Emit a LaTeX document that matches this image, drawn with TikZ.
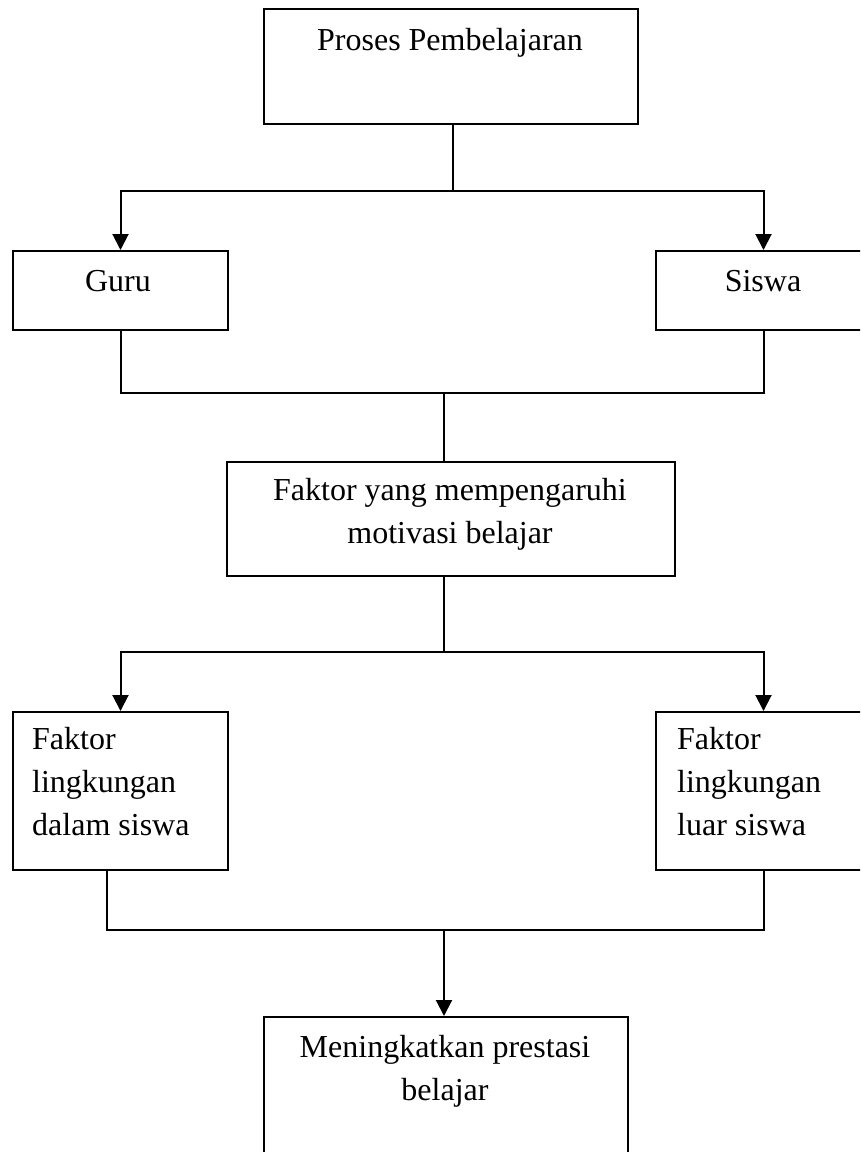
\documentclass[tikz,border=0pt]{standalone}
\usepackage{fontspec}
\setmainfont{Liberation Serif}
\usepackage{tikz}
\usetikzlibrary{arrows.meta,positioning}

\tikzset{
    kotak/.style={draw, line width=2pt, rectangle, inner sep=0pt, anchor=north west},
    teks/.style={font=\fontsize{32}{43}\selectfont, inner sep=0pt, anchor=base},
    garis/.style={line width=2pt}
}

\begin{document}
\begin{tikzpicture}[x=1pt, y=-1pt, >={Triangle[width=16pt,length=16pt]}]
    \useasboundingbox (0,0) rectangle (860,1152);
    \clip (0,0) rectangle (860,1152);

    % Proses pembelajaran
    \node[kotak, minimum width=374pt, minimum height=115pt] (proses) at (263,8) {};
    \node[teks] (prosesT) at (450,50) {Proses Pembelajaran};

    % Guru dan siswa
    \node[kotak, minimum width=215pt, minimum height=79pt] (guru) at (12,250) {};
    \node[teks] (guruT) at (118,291) {Guru};
    \node[kotak, minimum width=215pt, minimum height=79pt] (siswa) at (655,250) {};
    \node[teks] (siswaT) at (763,291) {Siswa};

    % Faktor motivasi
    \node[kotak, minimum width=448pt, minimum height=114pt] (faktor) at (226,461) {};
    \node[teks, align=center] (faktorT) at (450,543) {Faktor yang mempengaruhi\\motivasi belajar};

    % Faktor dalam dan luar
    \node[kotak, minimum width=215pt, minimum height=158pt] (dalam) at (12,711) {};
    \node[teks, align=left, anchor=base west] (dalamT) at (32,835) {Faktor\\lingkungan\\dalam siswa};
    \node[kotak, minimum width=215pt, minimum height=158pt] (luar) at (655,711) {};
    \node[teks, align=left, anchor=base west] (luarT) at (677,835) {Faktor\\lingkungan\\luar siswa};

    % Prestasi
    \node[kotak, minimum width=364pt, minimum height=190pt] (prestasi) at (263,1016) {};
    \node[teks, align=center] (prestasiT) at (445,1100) {Meningkatkan prestasi\\belajar};

    % Garis penghubung
    \coordinate (cabang1) at (453,191);
    \coordinate (gabung1) at (444,393);
    \coordinate (cabang2) at (444,652);
    \coordinate (gabung2) at (444,930);
    \coordinate (kiri2) at (107,930);

    \draw[garis] (cabang1 |- proses.south) -- (cabang1);
    \draw[garis, ->] (cabang1) -| (guru.north);
    \draw[garis, ->] (cabang1) -| (siswa.north);

    \draw[garis] (guru.south) |- (gabung1);
    \draw[garis] (siswa.south) |- (gabung1);
    \draw[garis] (gabung1) -- (gabung1 |- faktor.north);

    \draw[garis] (cabang2 |- faktor.south) -- (cabang2);
    \draw[garis, ->] (cabang2) -| (dalam.north);
    \draw[garis, ->] (cabang2) -| (luar.north);

    \draw[garis] (kiri2 |- dalam.south) -- (kiri2) -- (gabung2);
    \draw[garis] (luar.south) |- (gabung2);
    \draw[garis, ->] (gabung2) -- (gabung2 |- prestasi.north);
\end{tikzpicture}
\end{document}
